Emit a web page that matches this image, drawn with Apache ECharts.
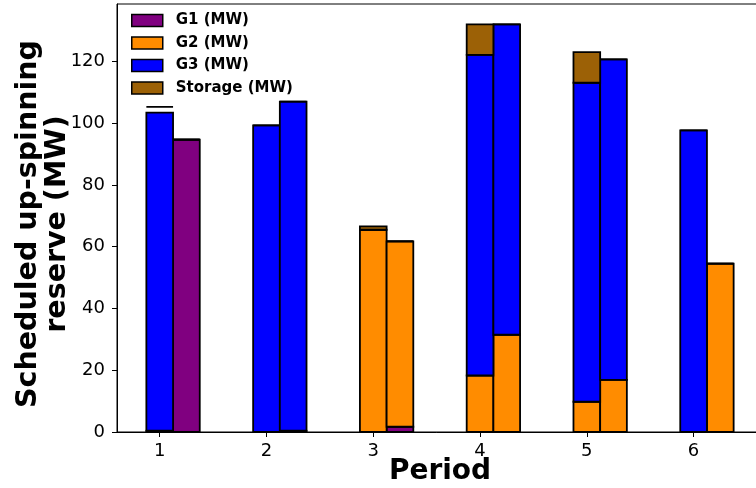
<!DOCTYPE html>
<html>
<head>
<meta charset="utf-8">
<script src="https://cdn.jsdelivr.net/npm/echarts@6/dist/echarts.min.js"></script>
<style>
  html, body { margin: 0; padding: 0; background: #fff; }
  #main { width: 756px; height: 488px; }
</style>
</head>
<body>
<div id="main"></div>
<script>
// periods on the x axis
var periods = [1, 2, 3, 4, 5, 6];

// left bar of each period (MW)
var leftG1 = [0.4, 0, 0, 0, 0, 0];
var leftG2 = [0, 0, 65.5, 18.3, 9.8, 0];
var leftG3 = [103.0, 99.3, 0, 103.8, 103.3, 97.7];
var leftStorage = [0, 0, 1.1, 9.9, 9.9, 0];
var leftStorageShift = [1.9, 0, 0, 0, 0, 0];

// right bar of each period (MW)
var rightG1 = [94.7, 0.4, 1.7, 0, 0, 0];
var rightG2 = [0, 0, 60.0, 31.5, 16.9, 54.5];
var rightG3 = [0, 106.6, 0, 100.5, 103.8, 0];
var rightStorage = [0, 0, 0, 0, 0, 0];

var yTicks = [0, 20, 40, 60, 80, 100, 120];

var names = ['G1 (MW)', 'G2 (MW)', 'G3 (MW)', 'Storage (MW)'];
var colors = ['#800080', '#ff8c00', '#0000ff', '#9c6106'];
var barW = 0.25;

// build [x, bottom, top] items for each layer, stacked per bar
function buildStack(xOffset, layers, shift) {
    var out = layers.map(function() { return []; });
    periods.forEach(function(p, i) {
        var base = 0;
        layers.forEach(function(arr, k) {
            if (k === layers.length - 1 && shift) base += shift[i];
            out[k].push([p + xOffset, base, base + arr[i]]);
            base += arr[i];
        });
    });
    return out;
}

var leftData = buildStack(0, [leftG1, leftG2, leftG3, leftStorage], leftStorageShift);
var rightData = buildStack(barW, [rightG1, rightG2, rightG3, rightStorage], null);

function renderBar(params, api) {
    var x = api.value(0), lo = api.value(1), hi = api.value(2);
    var p0 = api.coord([x - barW / 2, lo]);
    var p1 = api.coord([x + barW / 2, hi]);
    return {
        type: 'rect',
        shape: { x: p0[0], y: p1[1], width: p1[0] - p0[0], height: p0[1] - p1[1] },
        style: { fill: colors[params.seriesIndex], stroke: '#000', lineWidth: 1.8 }
    };
}

var series = names.map(function(n, k) {
    return {
        name: n,
        type: 'custom',
        renderItem: renderBar,
        encode: { x: 0, y: [1, 2] },
        data: leftData[k].concat(rightData[k])
    };
});

var chart = echarts.init(document.getElementById('main'));
var font = 'DejaVu Sans';

chart.setOption({
    animation: false,
    textStyle: { fontFamily: font },
    grid: {
        left: 117, top: 4, width: 646, height: 428,
        outerBoundsMode: 'none',
        containLabel: false,
        show: true, borderColor: '#000', borderWidth: 1
    },
    legend: {
        orient: 'vertical',
        left: 131,
        top: 13,
        padding: 0,
        itemWidth: 31,
        itemHeight: 12,
        itemGap: 7.5,
        textStyle: { fontFamily: font, fontSize: 15, fontWeight: 'bold', color: '#000', padding: [0, 0, 0, 8] },
        data: names.map(function(n, k) {
            return {
                name: n, icon: 'rect',
                itemStyle: { color: colors[k], borderColor: '#000', borderWidth: 1.5 }
            };
        })
    },
    xAxis: {
        type: 'value',
        min: 0.6,
        max: 6.65,
        splitLine: { show: false },
        axisLine: { show: true, onZero: false, lineStyle: { color: '#000', width: 1 } },
        axisTick: { show: true, inside: false, length: 5, customValues: periods, lineStyle: { color: '#000' } },
        axisLabel: { customValues: periods, color: '#000', fontSize: 18, margin: 10, fontFamily: font },
        name: 'Period',
        nameLocation: 'middle',
        nameGap: 26,
        nameMoveOverlap: false,
        nameTextStyle: { fontSize: 28, fontWeight: 'bold', color: '#000', fontFamily: font }
    },
    yAxis: {
        type: 'value',
        min: 0,
        max: 138.6,
        splitLine: { show: false },
        axisLine: { show: true, lineStyle: { color: '#000', width: 1 } },
        axisTick: { show: true, inside: false, length: 5, customValues: yTicks, lineStyle: { color: '#000' } },
        axisLabel: { customValues: yTicks, color: '#000', fontSize: 18, margin: 12, fontFamily: font },
        name: 'Scheduled up-spinning\nreserve (MW)',
        nameLocation: 'middle',
        nameRotate: 90,
        nameGap: 45,
        nameMoveOverlap: false,
        nameTextStyle: { fontSize: 28.5, fontWeight: 'bold', color: '#000', lineHeight: 29, fontFamily: font, padding: [0, 12, 0, 0] }
    },
    series: series
});
</script>
</body>
</html>
